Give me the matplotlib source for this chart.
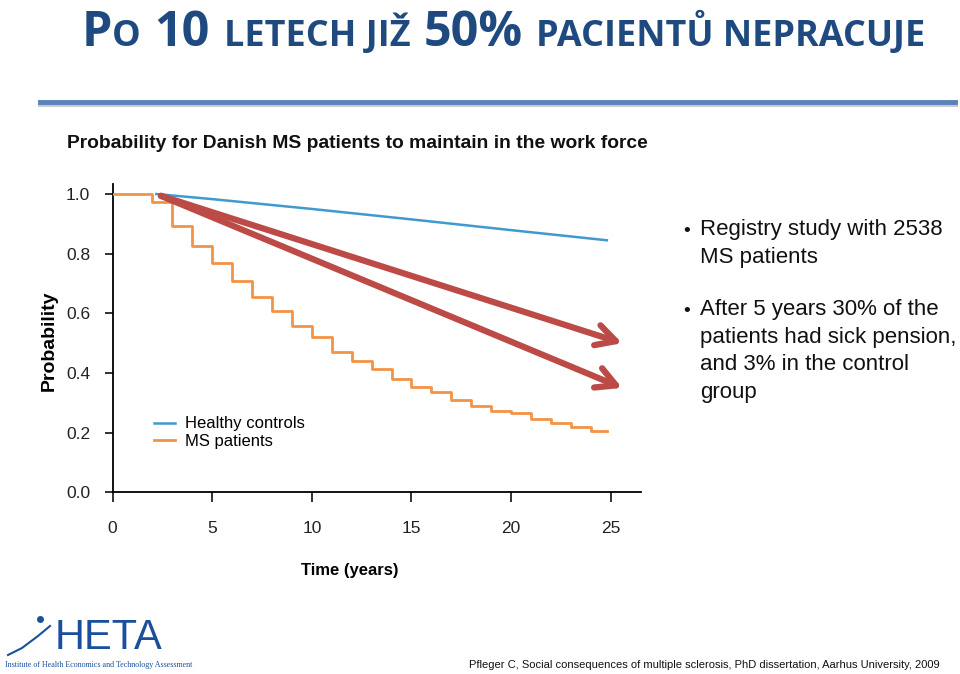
import matplotlib
matplotlib.use("Agg")
import matplotlib.pyplot as plt
from matplotlib import font_manager
from matplotlib.lines import Line2D

# --- data ---
ms_years = [0, 2, 3, 4, 5, 6, 7, 8, 9, 10, 11, 12, 13, 14, 15, 16, 17, 18, 19, 20, 21, 22, 23, 24, 24.8]
ms_prob = [1.0, 0.972, 0.894, 0.827, 0.768, 0.709, 0.656, 0.608, 0.558, 0.521, 0.471, 0.439, 0.412,
           0.379, 0.354, 0.337, 0.309, 0.289, 0.273, 0.265, 0.246, 0.233, 0.218, 0.206, 0.206]
healthy_years = [2.2, 5, 10, 15, 20, 24.8]
healthy_prob = [1.0, 0.983, 0.95, 0.915, 0.879, 0.845]
arrow_start = (2.43, 0.994)
arrow_ends = [(25.57, 0.50), (25.57, 0.35)]
x_ticks = [0, 5, 10, 15, 20, 25]
y_ticks = [0.0, 0.2, 0.4, 0.6, 0.8, 1.0]
series_labels = ["Healthy controls", "MS patients"]

bullets = ["Registry study with 2538\nMS patients",
           "After 5 years 30% of the\npatients had sick pension,\nand 3% in the control\ngroup"]
title_parts = [("P", True), ("O", False), ("10", True), ("LETECH JIŽ", False),
               ("50%", True), ("PACIENTŮ NEPRACUJE", False)]

BLUE = "#4199cf"
ORANGE = "#f29447"
RED = "#bc4a46"
NAVY = "#1f4a7f"

names = {f.name for f in font_manager.fontManager.ttflist}


def pick(*cands):
    for c in cands:
        if c in names:
            return c
    return "DejaVu Sans"


body_font = pick("Liberation Sans", "Arial", "DejaVu Sans")
title_font = pick("Liberation Sans Narrow", "Open Sans", "Liberation Sans")
plt.rcParams["font.family"] = [body_font, "DejaVu Sans"]

W, H = 960, 674
fig = plt.figure(figsize=(W / 100, H / 100), dpi=100)

# chart axes (pixel geometry from the reference)
left_px, right_px, bottom_px, top_px = 112.5, 640.7, 492.3, 183.6
ax = fig.add_axes([left_px / W, 1 - bottom_px / H, (right_px - left_px) / W, (bottom_px - top_px) / H])
ax.set_xlim(0, 26.5)
ax.set_ylim(0, 1.035)

ax.step(ms_years, ms_prob, where="post", color=ORANGE, lw=2, label=series_labels[1], zorder=3)
ax.plot(healthy_years, healthy_prob, color=BLUE, lw=1.8, label=series_labels[0], zorder=3)

for end in arrow_ends:
    ax.annotate("", xy=end, xytext=arrow_start,
                arrowprops=dict(arrowstyle="->,head_length=1.4,head_width=0.75", lw=4.5,
                                color=RED, shrinkA=0, shrinkB=0, mutation_scale=10),
                zorder=4)

for s in ["top", "right"]:
    ax.spines[s].set_visible(False)
ax.spines["left"].set_bounds(0, 1.035)
ax.spines["left"].set_linewidth(1.3)
ax.spines["bottom"].set_linewidth(1.3)
ax.set_xticks(x_ticks)
ax.set_xticklabels([str(t) for t in x_ticks])
ax.set_yticks(y_ticks)
ax.set_yticklabels([f"{v:.1f}" for v in y_ticks])
ax.tick_params(axis="y", length=6, width=1.3, pad=10, labelsize=12.5, colors="#222222")
ax.tick_params(axis="x", length=7.5, width=1.3, pad=13, labelsize=12.5, colors="#222222")
ax.set_ylabel("Probability", fontsize=14, fontweight="bold")
ax.yaxis.set_label_coords(-0.103, 0.49)
ax.set_xlabel("Time (years)", fontsize=12, fontweight="bold")
ax.xaxis.set_label_coords(0.45, -0.23)

h, l = ax.get_legend_handles_labels()
order = [1, 0]
ax.legend([h[i] for i in order], [l[i] for i in order], loc="upper left",
          bbox_to_anchor=(0.078, 0.246), frameon=False, fontsize=12,
          handlelength=1.25, handletextpad=0.65, labelspacing=0.15,
          borderpad=0, borderaxespad=0)

# subtitle
fig.text(67 / W, 1 - 144 / H, "Probability for Danish MS patients to maintain in the work force",
         fontsize=13.9, fontweight="bold", va="center", ha="left", color="#111111")

# bullet text on the right
y0 = [231, 311]
for i, txt in enumerate(bullets):
    fig.text(683 / W, 1 - y0[i] / H, "•", fontsize=14, va="center", ha="left", color="#111111")
    fig.text(700 / W, 1 - (y0[i] - 12) / H, txt, fontsize=16, va="top", ha="left",
             linespacing=1.42, color="#111111")

# title with small caps look, scaled to span the reference width
renderer = fig.canvas.get_renderer()


def draw_title(big, small, gap, draw=True):
    x = 82
    made = []
    for k, (txt, is_big) in enumerate(title_parts):
        t = fig.text(x / W, 1 - 46 / H, txt, fontsize=big if is_big else small, fontweight="bold",
                     family=[title_font, "DejaVu Sans"], color=NAVY, va="baseline", ha="left")
        made.append(t)
        x += t.get_window_extent(renderer).width
        if k in (1, 2, 3, 4):
            x += gap
    if not draw:
        for t in made:
            t.remove()
    return x


end_x = draw_title(31, 23, 12, draw=False)
sc = (925 - 82) / (end_x - 82)
draw_title(31 * sc, 23 * sc, 12 * sc)

# rule under title
fig.add_artist(Line2D([40 / W, 955 / W], [1 - 104 / H, 1 - 104 / H], color="#c8c8c8", lw=3.5))
fig.add_artist(Line2D([40 / W, 955 / W], [1 - 101.5 / H, 1 - 101.5 / H], color="#5a82b8", lw=3.5))

# footer
fig.text(940 / W, 1 - 665 / H,
         "Pfleger C, Social consequences of multiple sclerosis, PhD dissertation, Aarhus University, 2009",
         fontsize=8.0, ha="right", va="center", color="#111111")

# logo
fig.text(55 / W, 1 - 649 / H, "HETA", fontsize=30, color="#1b4f9c", ha="left", va="baseline")
fig.text(5 / W, 1 - 665 / H, "Institute of Health Economics and Technology Assessment",
         fontsize=5.8, color="#1b4f9c", ha="left", va="center", family=["Liberation Serif", "DejaVu Serif"])
fig.add_artist(Line2D([8 / W, 22 / W, 38 / W, 50 / W], [1 - 655 / H, 1 - 648 / H, 1 - 636 / H, 1 - 626 / H],
                      color="#1b4f9c", lw=1.5))
fig.add_artist(Line2D([40 / W], [1 - 619 / H], marker="o", ms=4, color="#1b4f9c"))

fig.savefig("out.png", dpi=100)
